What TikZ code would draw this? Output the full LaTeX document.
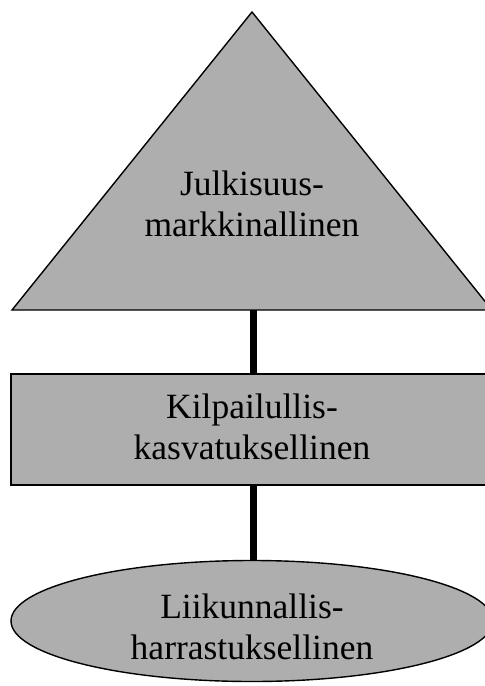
\documentclass[tikz,border=0pt]{standalone}
\usepackage{fontspec}
\setmainfont{Liberation Serif}
\usetikzlibrary{shapes.geometric}
\definecolor{shade}{RGB}{174,174,174}
\begin{document}
\begin{tikzpicture}[x=1pt,y=-1pt,
  shapeline/.style={draw=black,line width=1.4pt,fill=shade},
  lbl/.style={font=\fontsize{35.5}{41}\selectfont,align=center,inner sep=0pt},
  link/.style={line width=7pt,draw=black}]
\useasboundingbox (0,0) rectangle (485,686);
\begin{scope}
\clip (0,0) rectangle (485,686);
% triangle
\draw[shapeline,line join=miter] (12,310) -- (252,12) -- (492,310) -- cycle;
\coordinate (tribase) at (253,310);
% rectangle
\node[shapeline,rectangle,minimum width=482pt,minimum height=111pt,inner sep=0pt] (rect) at (252,429.5) {};
% ellipse
\node[shapeline,ellipse,minimum width=482pt,minimum height=121pt,inner sep=0pt] (ell) at (252,621) {};
\end{scope}
% connectors
\draw[link] (tribase) -- (rect.north -| tribase);
\draw[link] (rect.south -| tribase) -- (ell.north -| tribase);
% labels
\node[lbl] (t1) at (252,204) {Julkisuus-\\markkinallinen};
\node[lbl] (t2) at (252,426.5) {Kilpailullis-\\kasvatuksellinen};
\node[lbl] (t3) at (252,626.5) {Liikunnallis-\\harrastuksellinen};
\end{tikzpicture}
\end{document}
